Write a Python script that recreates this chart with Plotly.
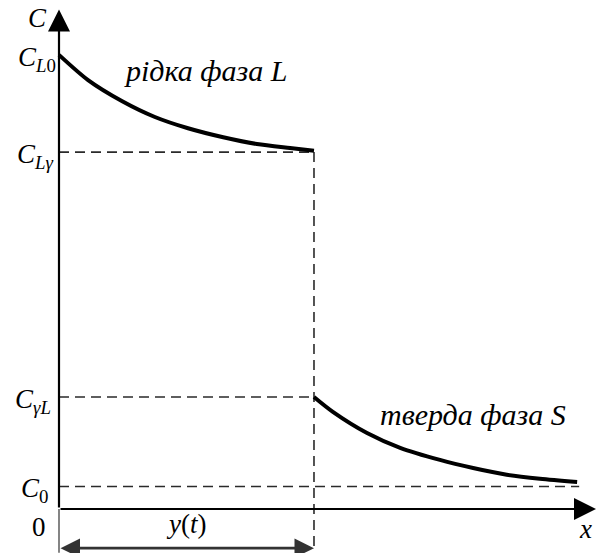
import plotly.graph_objects as go

# ---- values (schematic units) ----
interface_x = 5.0          # y(t), position of the phase boundary
x_end = 10.2               # end of the dashed C0 line
x_axis_end = 10.53
c_axis_end = 11.1

C_L0 = 10.09
C_Lg = 7.93
C_gL = 2.49
C_0 = 0.5
arrow_level = -0.87        # level of the y(t) dimension arrow

# liquid-phase concentration curve
liquid_x = [0.0, 0.57, 1.24, 1.88, 2.53, 3.22, 3.88, 4.53, 5.0]
liquid_c = [10.09, 9.53, 9.06, 8.71, 8.46, 8.26, 8.11, 8.02, 7.96]

# solid-phase concentration curve
solid_x = [5.0, 5.37, 6.04, 6.69, 7.47, 8.12, 8.78, 9.43, 10.16]
solid_c = [2.49, 2.16, 1.69, 1.36, 1.09, 0.91, 0.76, 0.67, 0.6]

tick_labels = {
    "C_L0": "<i>C</i><sub><i>L</i>0</sub>",
    "C_Lg": "<i>C</i><sub><i>Lγ</i></sub>",
    "C_gL": "<i>C</i><sub><i>γL</i></sub>",
    "C_0": "<i>C</i><sub>0</sub>",
}

FONT = "Liberation Serif"
fig = go.Figure()

dash = "10px,6px"
dcol = "#2a2a2a"
for cval, xend in [(C_Lg, interface_x), (C_gL, interface_x), (C_0, x_end)]:
    fig.add_trace(go.Scatter(x=[0, xend], y=[cval, cval], mode="lines",
                             line=dict(color=dcol, width=1.6, dash=dash),
                             hoverinfo="skip", showlegend=False))
fig.add_trace(go.Scatter(x=[interface_x, interface_x], y=[C_Lg, arrow_level],
                         mode="lines", line=dict(color=dcol, width=1.6, dash=dash),
                         hoverinfo="skip", showlegend=False))
fig.add_trace(go.Scatter(x=[0, 0], y=[0, arrow_level - 0.1], mode="lines",
                         line=dict(color="#333333", width=1.2),
                         hoverinfo="skip", showlegend=False))

fig.add_trace(go.Scatter(x=liquid_x, y=liquid_c, mode="lines",
                         line=dict(color="black", width=4, shape="spline", smoothing=0.8),
                         hoverinfo="skip", showlegend=False))
fig.add_trace(go.Scatter(x=solid_x, y=solid_c, mode="lines",
                         line=dict(color="black", width=4, shape="spline", smoothing=0.8),
                         hoverinfo="skip", showlegend=False))

annotations = []
annotations.append(dict(x=0, y=c_axis_end, ax=0, ay=0, xref="x", yref="y", axref="x", ayref="y",
                        text="", showarrow=True, arrowhead=2, arrowsize=2.0, arrowwidth=2.2,
                        arrowcolor="black"))
annotations.append(dict(x=x_axis_end, y=0, ax=0, ay=0, xref="x", yref="y", axref="x", ayref="y",
                        text="", showarrow=True, arrowhead=2, arrowsize=2.0, arrowwidth=2.2,
                        arrowcolor="black"))
annotations.append(dict(x=interface_x, y=arrow_level, ax=0, ay=arrow_level, xref="x", yref="y",
                        axref="x", ayref="y", text="", showarrow=True, arrowhead=2,
                        startarrowhead=2, arrowside="end+start", arrowsize=1.5,
                        startarrowsize=1.5, arrowwidth=2.6, arrowcolor="#333333"))

def label(x, y, text, xanchor="center", size=27):
    annotations.append(dict(x=x, y=y, xref="x", yref="y", text=text, showarrow=False,
                            xanchor=xanchor, yanchor="middle",
                            font=dict(family=FONT, size=size, color="black")))

label(-0.02, C_L0 - 0.08, tick_labels["C_L0"], xanchor="right")
label(-0.06, C_Lg - 0.08, tick_labels["C_Lg"], xanchor="right")
label(-0.12, C_gL - 0.08, tick_labels["C_gL"], xanchor="right")
label(-0.18, C_0 - 0.08, tick_labels["C_0"], xanchor="right")
label(-0.42, 10.9, "<i>C</i>")
label(-0.4, -0.4, "0")
label(10.33, -0.45, "<i>x</i>")
label(2.5, -0.33, "<i>y</i>(<i>t</i>)")
label(1.24, 9.75, "<i>рідка фаза L</i>", xanchor="left", size=30)
label(6.25, 2.1, "<i>тверда фаза S</i>", xanchor="left", size=30)

fig.update_layout(
    width=596, height=553,
    margin=dict(l=0, r=0, t=0, b=0, autoexpand=False),
    paper_bgcolor="white", plot_bgcolor="white",
    xaxis=dict(range=[-1.157, 10.53], visible=False, fixedrange=True),
    yaxis=dict(range=[-0.978, 11.31], visible=False, fixedrange=True),
    annotations=annotations,
    showlegend=False,
)
fig.write_html("out.html", config={"displayModeBar": False},
               post_script="document.body.style.margin='0';document.body.style.padding='0';")
